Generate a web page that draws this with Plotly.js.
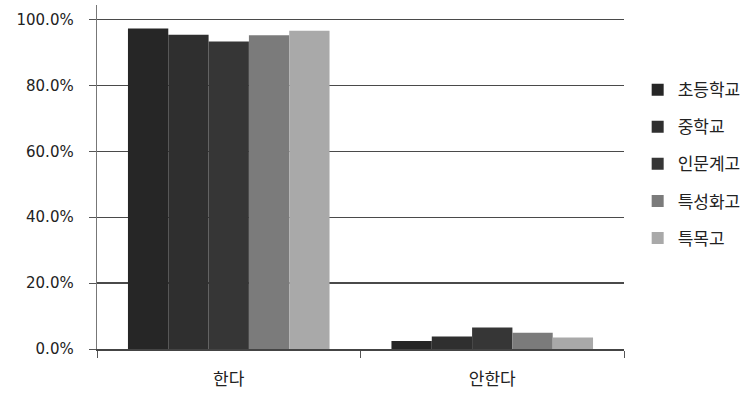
<!DOCTYPE html>
<html>
<head>
<meta charset="utf-8">
<script src="https://cdn.plot.ly/plotly-3.0.1.min.js"></script>
<style>
  html, body { margin: 0; padding: 0; background: #ffffff; }
  #chart { width: 750px; height: 395px; }
</style>
</head>
<body>
<div id="chart"></div>
<script>
// Response categories on the x axis
const categories = ['한다', '안한다'];

// School types (one bar series each)
const schoolTypes = ['초등학교', '중학교', '인문계고', '특성화고', '특목고'];

// Share of respondents per school type, in percent: [한다, 안한다]
const elementary = [97.3, 2.4];
const middle = [95.4, 3.8];
const generalHigh = [93.3, 6.5];
const vocationalHigh = [95.2, 4.9];
const specialHigh = [96.6, 3.5];

const seriesValues = [elementary, middle, generalHigh, vocationalHigh, specialHigh];
const seriesColors = ['#262626', '#2f2f2f', '#363636', '#7b7b7b', '#a9a9a9'];

const yTickValues = [0, 20, 40, 60, 80, 100];
const yTickLabels = ['0.0%', '20.0%', '40.0%', '60.0%', '80.0%', '100.0%'];

const traces = schoolTypes.map((name, i) => ({
  type: 'bar',
  name: name,
  x: categories,
  y: seriesValues[i],
  legendgroup: 'g' + i,
  marker: { color: seriesColors[i], line: { width: 0 } },
  hoverinfo: 'x+y+name'
}));

const layout = {
  width: 750,
  height: 395,
  margin: { l: 97, r: 125, t: 5, b: 46 },
  paper_bgcolor: '#ffffff',
  plot_bgcolor: '#ffffff',
  barmode: 'group',
  bargap: 0.235,
  bargroupgap: 0,
  font: { family: '"Noto Sans CJK KR", "DejaVu Sans", sans-serif', color: '#222222' },
  xaxis: {
    type: 'category',
    showgrid: false,
    showline: true,
    linecolor: '#444444',
    linewidth: 1.5,
    ticks: 'outside',
    tickson: 'boundaries',
    ticklen: 7,
    tickcolor: '#555555',
    tickfont: { family: '"Noto Sans CJK KR", sans-serif', size: 17, color: '#222222' },
    ticklabelstandoff: 14,
    zeroline: false
  },
  yaxis: {
    range: [0, 104.4],
    tickvals: yTickValues,
    ticktext: yTickLabels,
    showgrid: true,
    gridcolor: '#4a4a4a',
    gridwidth: 1.3,
    showline: true,
    linecolor: '#777777',
    linewidth: 1.3,
    ticks: 'outside',
    ticklen: 7,
    tickcolor: '#555555',
    tickfont: { family: '"DejaVu Sans", sans-serif', size: 15, color: '#222222' },
    ticklabelstandoff: 12,
    zeroline: false,
    fixedrange: true
  },
  showlegend: true,
  legend: {
    x: 1.024,
    xanchor: 'left',
    y: 0.805,
    yanchor: 'top',
    traceorder: 'grouped',
    tracegroupgap: 12,
    font: { family: '"Noto Sans CJK KR", sans-serif', size: 17, color: '#222222' },
    bgcolor: 'rgba(0,0,0,0)',
    itemclick: false,
    itemdoubleclick: false
  }
};

Plotly.newPlot('chart', traces, layout, { displayModeBar: false, staticPlot: true });
</script>
</body>
</html>
